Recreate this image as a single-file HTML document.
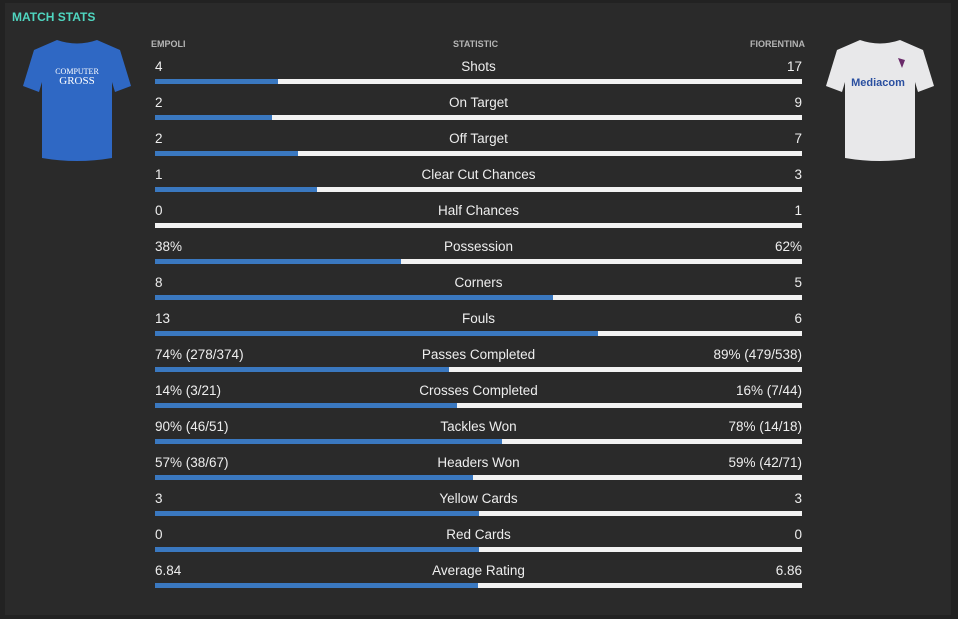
<!DOCTYPE html>
<html><head><meta charset="utf-8"><style>
html,body{margin:0;padding:0;width:958px;height:619px;overflow:hidden;background:#222;font-family:"Liberation Sans",sans-serif;}
.panel{position:absolute;left:5px;top:3px;width:946px;height:612px;background:#2a2a2a;}
.title{position:absolute;left:12px;top:10px;color:#4fd6c0;font-weight:bold;font-size:12px;}
.hdr{position:absolute;top:39px;color:#b5b5b5;font-size:9px;font-weight:bold;}
.row{position:absolute;left:155px;width:647px;height:36px;}
.row .l,.row .r,.row .c{position:absolute;top:0;color:#eee;font-size:13.5px;line-height:16px;}
.row .l{left:0}.row .r{right:0}.row .c{left:0;width:100%;text-align:center}
.bar{position:absolute;left:0;top:20px;width:647px;height:5px;background:#f2f2f2;}
.bar i{position:absolute;left:0;top:0;height:5px;background:#3a78c0;}
</style></head><body>
<div class="panel"></div>
<div class="title">MATCH STATS</div>
<div class="hdr" style="left:151px">EMPOLI</div>
<div class="hdr" style="left:453px">STATISTIC</div>
<div class="hdr" style="right:153px">FIORENTINA</div>
<svg style="position:absolute;left:22px;top:38px" width="110" height="126" viewBox="0 0 110 126">
<path d="M35 2 Q55 9 75 2 L98 12 L109 48 L93 54 L90 44 L90 120 Q55 126 20 120 L20 44 L17 54 L1 48 L12 12 Z" fill="#2f68c4"/>
<text x="55" y="36" fill="#fff" font-size="8" text-anchor="middle" font-family="Liberation Serif">COMPUTER</text>
<text x="55" y="46" fill="#fff" font-size="11" text-anchor="middle" font-family="Liberation Serif">GROSS</text>
</svg>
<svg style="position:absolute;left:825px;top:38px" width="110" height="126" viewBox="0 0 110 126">
<path d="M35 2 Q55 9 75 2 L98 12 L109 48 L93 54 L90 44 L90 120 Q55 126 20 120 L20 44 L17 54 L1 48 L12 12 Z" fill="#e8e8ea"/>
<text x="53" y="48" fill="#2a4fa0" font-size="11" font-weight="bold" text-anchor="middle">Mediacom</text>
<path d="M73 20 L80 22 L77 30 Z" fill="#6a2a6a"/>
</svg>
<div class="row" style="top:59px"><span class="l">4</span><span class="c">Shots</span><span class="r">17</span><div class="bar"><i style="width:123px"></i></div></div>
<div class="row" style="top:95px"><span class="l">2</span><span class="c">On Target</span><span class="r">9</span><div class="bar"><i style="width:117px"></i></div></div>
<div class="row" style="top:131px"><span class="l">2</span><span class="c">Off Target</span><span class="r">7</span><div class="bar"><i style="width:143px"></i></div></div>
<div class="row" style="top:167px"><span class="l">1</span><span class="c">Clear Cut Chances</span><span class="r">3</span><div class="bar"><i style="width:162px"></i></div></div>
<div class="row" style="top:203px"><span class="l">0</span><span class="c">Half Chances</span><span class="r">1</span><div class="bar"><i style="width:0px"></i></div></div>
<div class="row" style="top:239px"><span class="l">38%</span><span class="c">Possession</span><span class="r">62%</span><div class="bar"><i style="width:246px"></i></div></div>
<div class="row" style="top:275px"><span class="l">8</span><span class="c">Corners</span><span class="r">5</span><div class="bar"><i style="width:398px"></i></div></div>
<div class="row" style="top:311px"><span class="l">13</span><span class="c">Fouls</span><span class="r">6</span><div class="bar"><i style="width:443px"></i></div></div>
<div class="row" style="top:347px"><span class="l">74% (278/374)</span><span class="c">Passes Completed</span><span class="r">89% (479/538)</span><div class="bar"><i style="width:294px"></i></div></div>
<div class="row" style="top:383px"><span class="l">14% (3/21)</span><span class="c">Crosses Completed</span><span class="r">16% (7/44)</span><div class="bar"><i style="width:302px"></i></div></div>
<div class="row" style="top:419px"><span class="l">90% (46/51)</span><span class="c">Tackles Won</span><span class="r">78% (14/18)</span><div class="bar"><i style="width:347px"></i></div></div>
<div class="row" style="top:455px"><span class="l">57% (38/67)</span><span class="c">Headers Won</span><span class="r">59% (42/71)</span><div class="bar"><i style="width:318px"></i></div></div>
<div class="row" style="top:491px"><span class="l">3</span><span class="c">Yellow Cards</span><span class="r">3</span><div class="bar"><i style="width:324px"></i></div></div>
<div class="row" style="top:527px"><span class="l">0</span><span class="c">Red Cards</span><span class="r">0</span><div class="bar"><i style="width:324px"></i></div></div>
<div class="row" style="top:563px"><span class="l">6.84</span><span class="c">Average Rating</span><span class="r">6.86</span><div class="bar"><i style="width:323px"></i></div></div>
</body></html>
